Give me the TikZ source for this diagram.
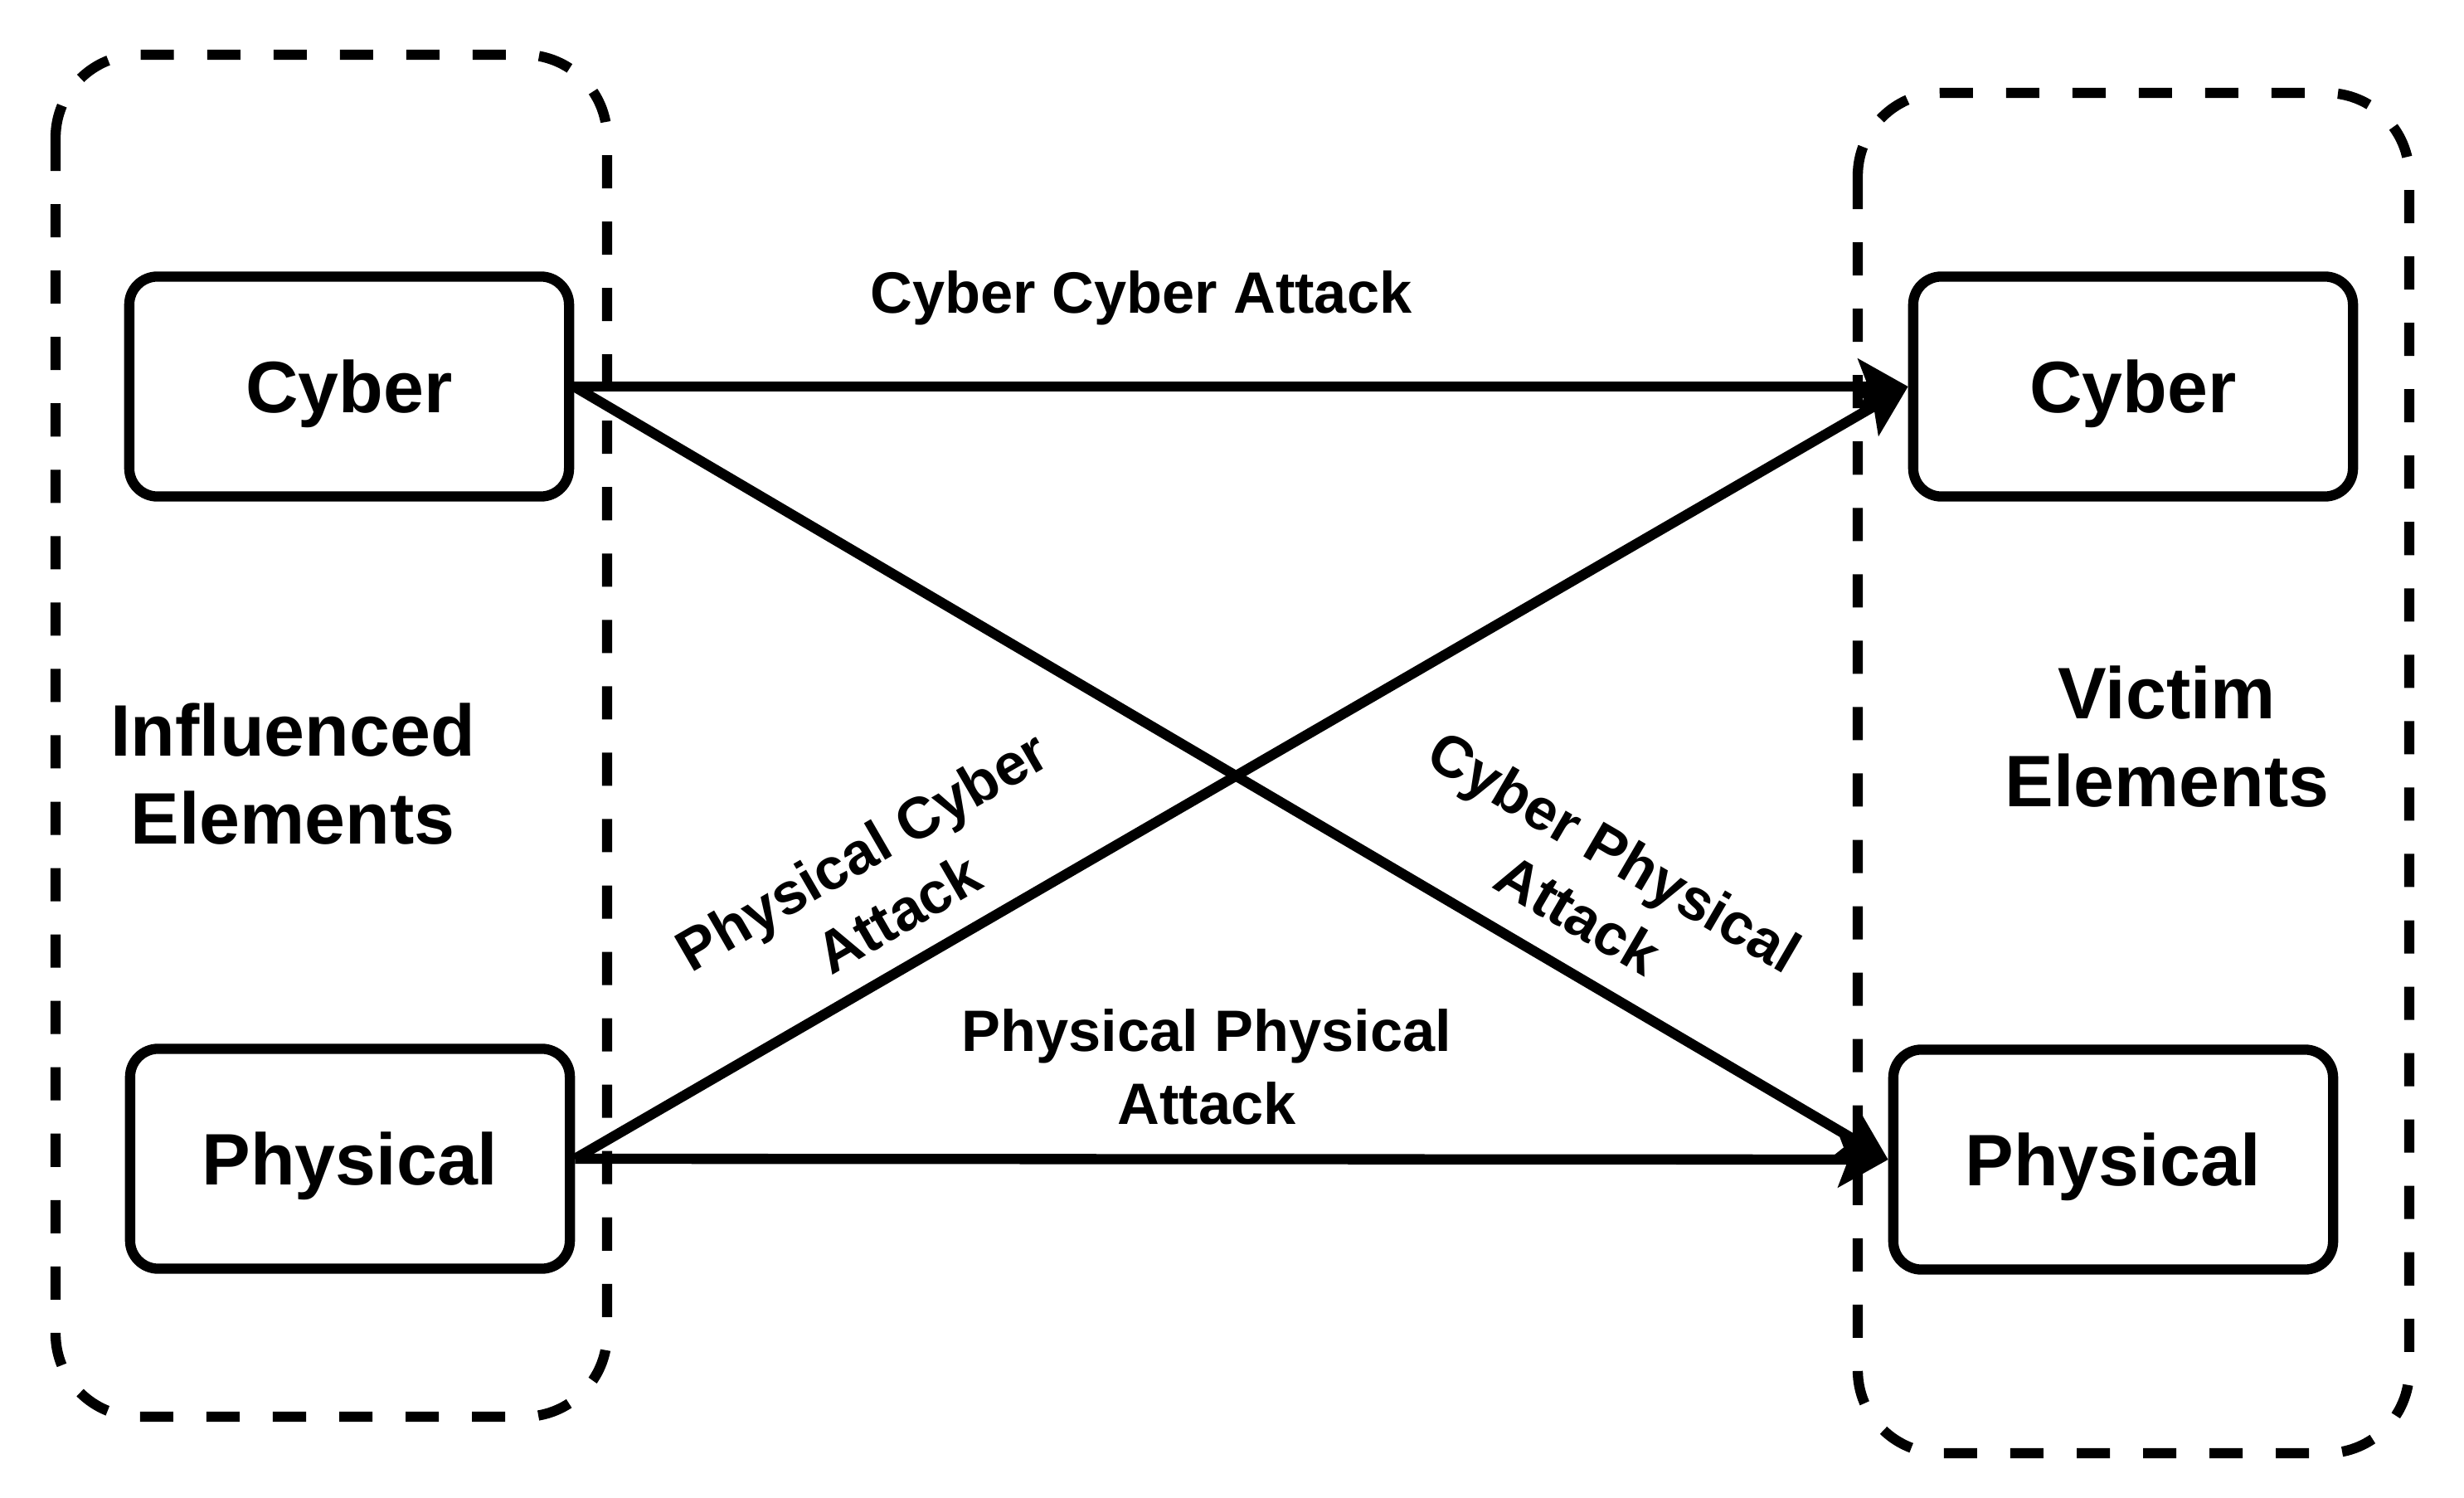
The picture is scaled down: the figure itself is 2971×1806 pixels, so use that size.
\documentclass[tikz,border=0pt]{standalone}
\usepackage{fontspec}
\setmainfont{Liberation Sans}
\usetikzlibrary{arrows.meta}

\begin{document}
\begin{tikzpicture}[x=0.01cm,y=-0.01cm,
    elem/.style={draw,line width=3.5pt,rounded corners=0.34cm,minimum width=5.3cm,
      minimum height=2.65cm,text depth=0pt,font=\bfseries\fontsize{25}{30}\selectfont},
    groupbox/.style={line width=3.5pt,dash pattern=on 0.4cm off 0.4cm,rounded corners=1cm},
    sidetitle/.style={align=center,font=\bfseries\fontsize{25}{30}\selectfont},
    attack/.style={align=center,font=\bfseries\fontsize{20}{25}\selectfont},
    link/.style={line width=3.5pt,->},
    >={Stealth[length=0.6cm,width=0.66cm,inset=0.12cm]}]
    \useasboundingbox (0,0) rectangle (2971,1806);

    % dashed groups
    \draw[groupbox] (67,66) rectangle (732,1708);
    \draw[groupbox] (2240,112) rectangle (2905,1752);

    \node[elem] (lcyber) at (421,466) {Cyber};
    \node[elem] (lphys) at (422,1397) {Physical};
    \node[elem] (rcyber) at (2572,466) {Cyber};
    \node[elem] (rphys) at (2548,1398) {Physical};

    \node[sidetitle] (infl) at (353,933) {Influenced\\Elements};
    \node[sidetitle] (vict) at (2613,888) {Victim\\Elements};

    \draw[link] (lcyber.east) -- (rcyber.west);
    \draw[link] (lcyber.east) -- (rphys.west);
    \draw[link] (lphys.east) -- (rcyber.west);
    \draw[link] (lphys.east) -- (rphys.west);

    \node[attack] (cc) at (1376,359) {Cyber Cyber Attack};
    \node[attack] (pp) at (1455,1286) {Physical Physical\\Attack};
    \node[attack,rotate=30.1] (pc) at (1061,1063) {Physical Cyber\\Attack};
    \node[attack,rotate=-30.3] (cp) at (1925,1064) {Cyber Physical\\Attack};
\end{tikzpicture}
\end{document}
